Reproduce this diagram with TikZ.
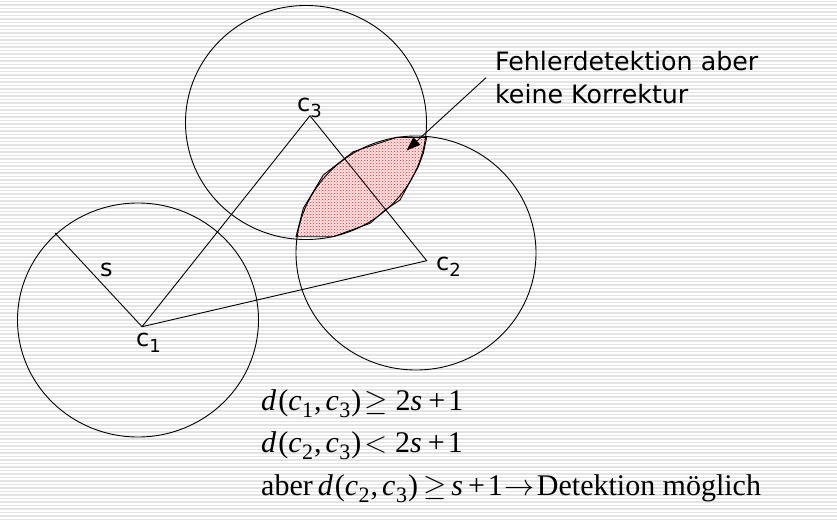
\documentclass[tikz,border=0pt]{standalone}
\usepackage{fix-cm}
\usepackage{fontspec}
\usetikzlibrary{arrows.meta,patterns}
\newfontfamily\dvfont{DejaVu Sans}
\newfontfamily\tmsfont{Liberation Serif}
\newcommand\lblsub[1]{\raisebox{-6pt}{\fontsize{18}{18}\selectfont #1}}
\newcommand\mathsub[1]{\kern0.5pt\raisebox{-7pt}{\fontsize{22}{22}\selectfont #1}}
\newcommand\symgeq{$\geq$}
\newcommand\symlt{$<$}
\newcommand\symto{$\rightarrow$}
\newcommand\mc[1]{\textit{#1}}
\tikzset{
  stripe/.style={draw=gray!22, line width=1.2pt},
  ring/.style={draw=black, line width=0.9pt},
  edge/.style={draw=black, line width=0.9pt},
  lbl/.style={inner sep=0pt, anchor=base west, font=\dvfont\fontsize{24}{24}\selectfont},
  note/.style={inner sep=0pt, anchor=base west, font=\dvfont\fontsize{25.3}{25.3}\selectfont},
  eqn/.style={inner sep=0pt, anchor=base west, font=\tmsfont\fontsize{30}{30}\selectfont},
  lens/.style={draw=black, line width=0.9pt, pattern=crosshatch dots, pattern color=red!85}
}
\begin{document}
\begin{tikzpicture}[x=1pt,y=-1pt]
\useasboundingbox (0,0) rectangle (837,522);
% striped background
\foreach \yy in {1.5,5,...,522} \draw[stripe] (0,\yy) -- (837,\yy);
% lens (filled region)
\fill[red!10] (296,236.7) -- (303.3,208.3) -- (323.3,175) -- (353.3,151.7) -- (396.7,137.3) -- (426.7,137.3) -- (423.3,153.3) -- (418.3,166.7) -- (400,200) -- (385,210) -- (370,223.3) -- (333.3,236.7) -- cycle;
\path[lens] (296,236.7) -- (303.3,208.3) -- (323.3,175) -- (353.3,151.7) -- (396.7,137.3) -- (426.7,137.3) -- (423.3,153.3) -- (418.3,166.7) -- (400,200) -- (385,210) -- (370,223.3) -- (333.3,236.7) -- cycle;
% circles
\draw[ring] (138,320) ellipse [x radius=120.5pt, y radius=117pt];
\draw[ring] (306,122.5) ellipse [x radius=120.5pt, y radius=117pt];
\draw[ring] (416,253) ellipse [x radius=120pt, y radius=117pt];
% points
\coordinate (c1) at (142,326.7);
\coordinate (c2) at (426.7,260.7);
\coordinate (c3) at (310,115.7);
\coordinate (send) at (55,233);
\coordinate (astart) at (486,77.7);
\coordinate (atip) at (406.5,150.5);
% connectors
\draw[edge] (c1) -- (c3) -- (c2) -- (c1);
\draw[edge] (c1) -- (send);
\draw[edge, -{Triangle[length=14pt,width=10pt]}] (astart) -- (atip);
% labels
\node[lbl] (l3) at (297,111.7) {c\lblsub{3}};
\node[lbl] (l2) at (436,270) {c\lblsub{2}};
\node[lbl] (l1) at (136,346.7) {c\lblsub{1}};
\node[lbl] (ls) at (100,276.7) {s};
\node[note] (nt1) at (495,70.7) {Fehlerdetektion aber};
\node[note] (nt2) at (495,103.3) {keine Korrektur};
% equations
\node[eqn] (e1) at (261,410) {\mc{d}\kern2pt(\mc{c}\mathsub{1}\kern1pt,\kern4pt\mc{c}\mathsub{3}\kern1pt)\kern3pt\symgeq\kern8pt2\mc{s}\kern6pt+\kern3pt1};
\node[eqn] (e2) at (261,452) {\mc{d}\kern2pt(\mc{c}\mathsub{2}\kern1pt,\kern4pt\mc{c}\mathsub{3}\kern1pt)\kern3pt\symlt\kern8pt2\mc{s}\kern6pt+\kern3pt1};
\node[eqn] (e3) at (261,495) {aber\kern5pt\mc{d}\kern2pt(\mc{c}\mathsub{2}\kern1pt,\kern4pt\mc{c}\mathsub{3}\kern1pt)\kern5pt\symgeq\kern5pt\mc{s}\kern5pt+\kern3pt1\kern2pt\symto\kern2pt Detektion möglich};
\end{tikzpicture}
\end{document}
